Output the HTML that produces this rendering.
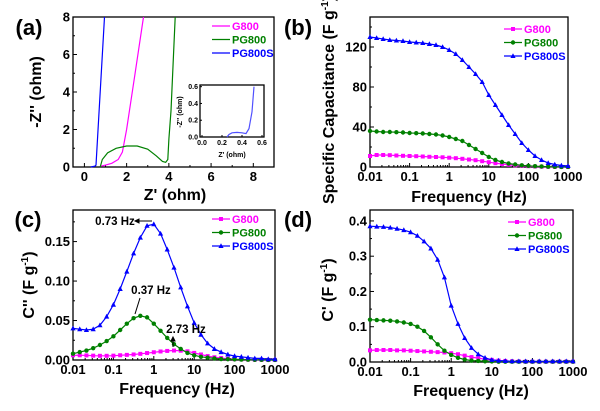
<!DOCTYPE html>
<html><head><meta charset="utf-8"><style>
body{margin:0;background:#fff}
svg{display:block;font-family:"Liberation Sans",Arial,sans-serif;font-weight:bold}
</style></head><body>
<svg id="fig" width="600" height="411" viewBox="0 0 600 411"></svg>
<script>
// ---------- data ----------
const freqs = [];
[0.01,0.1,1,10,100].forEach(d=>[1,1.47,2.15,3.16,4.64,6.81].forEach(m=>freqs.push(d*m))); freqs.push(1000);
// panel b: specific capacitance
const capG800 = [11,12,12,11.8,11.5,11.2, 11,10.8,10.5,10.2,10,9.7, 9.3,8.8,8.2,7.5,6.8,5.8, 4.8,3.8,3,2.2,1.6,1.1, 0.8,0.5,0.3,0.2,0.1,0.1, 0.05];
const capPG800 = [36,35.5,35,35,34.8,34.5, 34,33.8,33.5,33,32.5,31.5, 30,28,26,22,18,14, 10,7,5,3.5,2.5,1.7, 1.2,0.8,0.5,0.3,0.2,0.1, 0.05];
const capPG800S = [130,129,128,127,126.5,126, 125,124.5,124,123,122,120, 117,113,107,100,93,85, 72,62,52,42,33,24, 17,11,7,4,2.5,1.5, 1];
// panel c: C''
const c2G800 = [.006,.006,.0058,.0055,.0053,.0053, .0055,.006,.0065,.007,.0078,.0088, .0098,.0108,.0115,.012,.0118,.011, .009,.007,.005,.0035,.0025,.0015, .001,.0007,.0005,.0003,.0002,.0001, .0001];
const c2PG800 = [.008,.010,.012,.015,.019,.024, .030,.038,.046,.053,.056,.054, .046,.037,.028,.020,.014,.009, .006,.004,.003,.002,.0012,.001, .0008,.0005,.0004,.0003,.0002,.0001, .0001];
const c2PG800S = [.040,.039,.038,.039,.044,.055, .070,.090,.112,.135,.155,.170, .172,.160,.140,.117,.092,.068, .047,.032,.021,.014,.010,.007, .005,.004,.003,.002,.002,.001, .001];
// panel d: C'
const c1G800 = [.033,.034,.034,.034,.033,.033, .032,.031,.030,.029,.028,.027, .025,.022,.018,.014,.011,.008, .006,.004,.003,.002,.0015,.001, .001,.001,.001,.001,.001,.001, .001];
const c1PG800 = [.120,.119,.118,.117,.115,.112, .108,.100,.088,.070,.050,.032, .020,.012,.007,.004,.003,.002, .0015,.001,.001,.001,.001,.001, .001,.001,.001,.001,.001,.001, .001];
const c1PG800S = [.385,.384,.383,.381,.378,.374, .368,.358,.342,.322,.290,.240, .160,.108,.068,.040,.022,.012, .006,.004,.003,.002,.002,.002, .002,.002,.002,.002,.002,.002, .002];
// panel a: Nyquist
const nyqG800X = [0.8,1.0,1.3,1.6,1.8,2.0,2.4,2.8];
const nyqG800Y = [0.05,0.1,0.2,0.4,0.8,2,5,8];
const nyqPG800X = [0.75,0.85,1.1,1.5,2.0,2.5,3.0,3.4,3.7,3.85,3.95,4.0,4.1,4.2,4.3];
const nyqPG800Y = [0,0.4,0.75,1.0,1.12,1.12,0.95,0.6,0.3,0.25,0.4,1.5,3,5.5,8];
const nyqPG800SX = [0.3,0.45,0.5,0.55,0.95];
const nyqPG800SY = [0,0.03,0.05,0.1,8];
const insetX = [0.25,0.27,0.3,0.35,0.4,0.44,0.47,0.5,0.52];
const insetY = [0,0.03,0.05,0.055,0.05,0.04,0.1,0.3,0.6];
const logTicks = ["0.01","0.1","1","10","100","1000"];

// ---------- helpers ----------
const NS="http://www.w3.org/2000/svg", svg=document.getElementById('fig');
function el(t,a,p){const e=document.createElementNS(NS,t);for(const k in a)e.setAttribute(k,a[k]);(p||svg).appendChild(e);return e;}
function txt(s,a,p){const e=el('text',a,p);e.textContent=s;return e;}
const COL={g:'#ff00ff',p:'#008000',s:'#0000ff'};
function lin(d0,d1,r0,r1){return v=>r0+(v-d0)/(d1-d0)*(r1-r0);}
function logS(d0,d1,r0,r1){return v=>r0+(Math.log10(v)-Math.log10(d0))/(Math.log10(d1)-Math.log10(d0))*(r1-r0);}
function frame(L,T,R,B,name){
  const r=el('rect',{x:L,y:T,width:R-L,height:B-T,fill:'none',stroke:'#000','stroke-width':1.3});
  
}
function line(xs,ys,X,Y,c,name){
  const d=xs.map((x,i)=>(i?'L':'M')+X(x).toFixed(1)+','+Y(ys[i]).toFixed(1)).join('');
  const p=el('path',{d,fill:'none',stroke:c,'stroke-width':1.2});
  
}
function marker(x,y,type,c,g){
  if(type==='sq')el('rect',{x:x-2,y:y-2,width:4,height:4,fill:c},g);
  else if(type==='ci')el('circle',{cx:x,cy:y,r:2.2,fill:c},g);
  else el('path',{d:`M${x},${y-2.8}L${x+2.6},${y+2}L${x-2.6},${y+2}Z`,fill:c},g);
}
function series(ys,X,Y,c,type,name){
  line(freqs,ys,X,Y,c,name+'-line');
  const g=el('g',{});
  freqs.forEach((f,i)=>marker(X(f),Y(ys[i]),type,c,g));
}
function logXAxis(X,B){
  logTicks.forEach(t=>{const x=X(+t);el('line',{x1:x,y1:B,x2:x,y2:B-4,stroke:'#000'});
    const e=txt(t,{x,y:B+14,'font-size':13,'text-anchor':'middle'});});
  for(let d=0.01;d<1000;d*=10)for(let m=2;m<10;m++){const x=X(d*m);el('line',{x1:x,y1:B,x2:x,y2:B-2,stroke:'#000'});}
}
function yAxis(vals,Y,L,fmt,minor){
  vals.forEach(v=>{const y=Y(v);el('line',{x1:L,y1:y,x2:L+4,y2:y,stroke:'#000'});
    const e=txt(fmt(v),{x:L-3,y:y+4.5,'font-size':13,'text-anchor':'end'});});
  (minor||[]).forEach(v=>{const y=Y(v);el('line',{x1:L,y1:y,x2:L+2,y2:y,stroke:'#000'});});
}
function legend(x,y,entries,withMarkers){
  const g=el('g',{});
  entries.forEach((e,i)=>{const yy=y+i*13.5;
    el('line',{x1:x,y1:yy,x2:x+18,y2:yy,stroke:e[1],'stroke-width':1.2},g);
    if(withMarkers)marker(x+9,yy,e[2],e[1],g);
    const t=txt(e[0],{x:x+20,y:yy+4,'font-size':11,fill:e[1]},g);});
}
function ytitle(s,x,y,name,sup){
  const t=el('text',{transform:`translate(${x},${y}) rotate(-90)`,'font-size':16,'text-anchor':'middle'});
  
  t.appendChild(document.createTextNode(s));
  if(sup){const ts=el('tspan',{'font-size':10,dy:-6},t);ts.textContent='-1';const t2=el('tspan',{dy:6},t);t2.textContent=')';}
}
function title(s,x,y,name,size){const e=txt(s,{x,y,'font-size':size||16,'text-anchor':'middle'});}

// ---------- panel a ----------
{const L=73,R=274,T=17,B=167;const X=lin(-0.54,8.98,L,R),Y=lin(0,8,B,T);
 frame(L,T,R,B,'plot-frame-a');
 [0,2,4,6,8].forEach(v=>{const x=X(v);el('line',{x1:x,y1:B,x2:x,y2:B-4,stroke:'#000'});title(String(v),x,B+14,'x-tick-label',13);});
 [1,3,5,7].forEach(v=>{const x=X(v);el('line',{x1:x,y1:B,x2:x,y2:B-2,stroke:'#000'});});
 yAxis([0,2,4,6,8],Y,L,v=>String(v),[1,3,5,7]);
 line(nyqPG800SX,nyqPG800SY,X,Y,COL.s,'nyquist-pg800s');
 line(nyqG800X,nyqG800Y,X,Y,COL.g,'nyquist-g800');
 line(nyqPG800X,nyqPG800Y,X,Y,COL.p,'nyquist-pg800');
 legend(212,26,[['G800',COL.g],['PG800',COL.p],['PG800S',COL.s]],false);
 // inset
 const iL=200,iR=264,iT=85,iB=137;const IX=lin(-0.02,0.62,iL,iR),IY=lin(0,0.62,iB,iT);
 frame(iL,iT,iR,iB,'inset-frame');
 [0,0.2,0.4,0.6].forEach(v=>{const x=IX(v);el('line',{x1:x,y1:iB,x2:x,y2:iB-2,stroke:'#000'});title(v.toFixed(1),x,iB+8,'inset-x-tick',7);
   const y=IY(v);el('line',{x1:iL,y1:y,x2:iL+2,y2:y,stroke:'#000'});const e=txt(v.toFixed(1),{x:iL-2,y:y+2.5,'font-size':7,'text-anchor':'end'});});
 line(insetX,insetY,IX,IY,'#5050ff','inset-pg800s');
 title("Z' (ohm)",232,157,'inset-x-title',7);
 const it=el('text',{transform:'translate(182,112) rotate(-90)','font-size':7,'text-anchor':'middle'});it.textContent="-Z'' (ohm)";
 title("Z' (ohm)",175,200,'x-axis-title-a');
 ytitle("-Z'' (ohm)",41,92,'y-axis-title-a');
 title('(a)',29,35,'panel-label-a',22);
}
// ---------- panel b ----------
{const L=370,R=568,T=17,B=167;const X=logS(0.01,1000,L,R),Y=lin(0,150,B,T);
 frame(L,T,R,B,'plot-frame-b');logXAxis(X,B);
 yAxis([0,40,80,120],Y,L,v=>String(v),[20,60,100,140]);
 series(capG800,X,Y,COL.g,'sq','g800-capacitance');
 series(capPG800,X,Y,COL.p,'ci','pg800-capacitance');
 series(capPG800S,X,Y,COL.s,'tr','pg800s-capacitance');
 legend(504,29,[['G800',COL.g,'sq'],['PG800',COL.p,'ci'],['PG800S',COL.s,'tr']],true);
 title('Frequency (Hz)',469,202,'x-axis-title-b');
 ytitle('Specific Capacitance (F g',334,100,'y-axis-title-b',true);
 title('(b)',298,35,'panel-label-b',22);
}
// ---------- panel c ----------
{const L=73,R=275,T=210,B=360;const X=logS(0.01,1000,L,R),Y=lin(0,0.19,B,T);
 frame(L,T,R,B,'plot-frame-c');logXAxis(X,B);
 yAxis([0,0.05,0.10,0.15],Y,L,v=>v.toFixed(2),[0.025,0.075,0.125,0.175]);
 series(c2G800,X,Y,COL.g,'sq','g800-c2');
 series(c2PG800,X,Y,COL.p,'ci','pg800-c2');
 series(c2PG800S,X,Y,COL.s,'tr','pg800s-c2');
 legend(212,219,[['G800',COL.g,'sq'],['PG800',COL.p,'ci'],['PG800S',COL.s,'tr']],true);
 title('0.73 Hz',115,225,'annotation-073',11.5);
 el('path',{d:'M135,221L152,221M135,221l4,-2v4z',stroke:'#000',fill:'#000'});
 title('0.37 Hz',151,294,'annotation-037',11.5);
 el('path',{d:'M140,298L135,314',stroke:'#000'});
 title('2.73 Hz',186,333,'annotation-273',11.5);
 el('path',{d:'M173,347L173,337M173,337l-2,4h4z',stroke:'#000',fill:'#000'});
 title('Frequency (Hz)',177,394,'x-axis-title-c');
 ytitle("C'' (F g",34,285,'y-axis-title-c',true);
 title('(c)',28,227,'panel-label-c',22);
}
// ---------- panel d ----------
{const L=370,R=573,T=210,B=362;const X=logS(0.01,1000,L,R),Y=lin(0,0.431,B,T);
 frame(L,T,R,B,'plot-frame-d');logXAxis(X,B);
 yAxis([0,0.1,0.2,0.3,0.4],Y,L,v=>v.toFixed(1),[0.05,0.15,0.25,0.35]);
 series(c1G800,X,Y,COL.g,'sq','g800-c1');
 series(c1PG800,X,Y,COL.p,'ci','pg800-c1');
 series(c1PG800S,X,Y,COL.s,'tr','pg800s-c1');
 legend(508,222,[['G800',COL.g,'sq'],['PG800',COL.p,'ci'],['PG800S',COL.s,'tr']],true);
 title('Frequency (Hz)',471,396,'x-axis-title-d');
 ytitle("C' (F g",333,290,'y-axis-title-d',true);
 title('(d)',298,227,'panel-label-d',22);
}
</script>
</body></html>
